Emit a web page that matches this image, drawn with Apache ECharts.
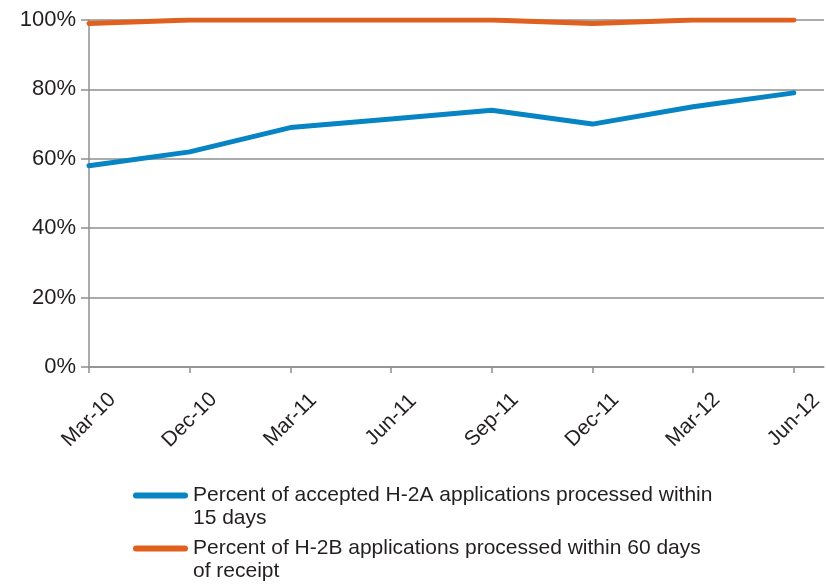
<!DOCTYPE html>
<html>
<head>
<meta charset="utf-8">
<script src="https://cdn.jsdelivr.net/npm/echarts@6/dist/echarts.min.js"></script>
<style>
  html, body { margin: 0; padding: 0; background: #fff; }
  #chart { width: 826px; height: 587px; }
</style>
</head>
<body>
<div id="chart"></div>
<script>
  // quarters on the x axis
  var categories = ['Mar-10', 'Dec-10', 'Mar-11', 'Jun-11', 'Sep-11', 'Dec-11', 'Mar-12', 'Jun-12'];
  // percent processed on time
  var h2aPct = [58, 62, 69, 71.5, 74, 70, 75, 79];
  var h2bPct = [99, 100, 100, 100, 100, 99, 100, 100];
  var yTicks = [0, 20, 40, 60, 80, 100];
  var seriesNames = [
    'Percent of accepted H-2A applications processed within\n15 days',
    'Percent of H-2B applications processed within 60 days\nof receipt'
  ];

  var catIdx = categories.map(function (c, i) { return i; });
  var grey = '#8f8f8f';
  var textColor = '#231f20';
  var font = 'Liberation Sans';

  function toPoints(arr) {
    return arr.map(function (v, i) { return [i, v]; });
  }

  // one legend per series so each can sit on its own spot
  function legendFor(name, top) {
    return {
      data: [name],
      orient: 'vertical',
      left: 133,
      top: top,
      padding: 0,
      itemWidth: 55,
      itemHeight: 6,
      itemGap: 0,
      icon: 'path://M3,0 H52 A3,3 0 0 1 52,6 H3 A3,3 0 0 1 3,0 Z',
      // leading empty line puts the icon level with the first text line
      formatter: function (n) { return '\n' + n; },
      textStyle: { fontFamily: font, fontSize: 21, lineHeight: 23, color: textColor }
    };
  }

  var chart = echarts.init(document.getElementById('chart'));
  chart.setOption({
    animation: false,
    grid: { left: 89, right: 0, top: 20, bottom: 220 },
    xAxis: {
      type: 'value',
      min: 0,
      max: 7.3,
      interval: 1,
      axisLine: { show: true, onZero: false, lineStyle: { color: grey, width: 1.5 } },
      axisTick: { show: true, length: 6, customValues: catIdx, lineStyle: { color: grey, width: 1.5 } },
      splitLine: { show: false },
      axisLabel: {
        customValues: catIdx,
        rotate: 45,
        align: 'center',
        verticalAlign: 'middle',
        margin: 53,
        fontFamily: font,
        fontSize: 21,
        color: textColor,
        formatter: function (v) { return categories[Math.round(v)]; }
      }
    },
    yAxis: {
      type: 'value',
      min: 0,
      max: 100,
      interval: 20,
      axisLine: { show: true, lineStyle: { color: grey, width: 1.5 } },
      axisTick: { show: true, length: 8, lineStyle: { color: grey, width: 1.5 } },
      splitLine: { show: true, lineStyle: { color: grey, width: 1.5 } },
      axisLabel: {
        margin: 13,
        fontFamily: font,
        fontSize: 22,
        color: textColor,
        formatter: function (v) { return yTicks.indexOf(v) >= 0 ? v + '%' : ''; }
      }
    },
    legend: [
      legendFor(seriesNames[0], 461),
      legendFor(seriesNames[1], 514)
    ],
    series: [
      {
        name: seriesNames[0],
        type: 'line',
        data: toPoints(h2aPct),
        showSymbol: false,
        itemStyle: { color: '#0784c3' },
        lineStyle: { color: '#0784c3', width: 5, cap: 'round', join: 'round' }
      },
      {
        name: seriesNames[1],
        type: 'line',
        data: toPoints(h2bPct),
        showSymbol: false,
        itemStyle: { color: '#e0601f' },
        lineStyle: { color: '#e0601f', width: 5, cap: 'round', join: 'round' }
      }
    ]
  });
</script>
</body>
</html>
